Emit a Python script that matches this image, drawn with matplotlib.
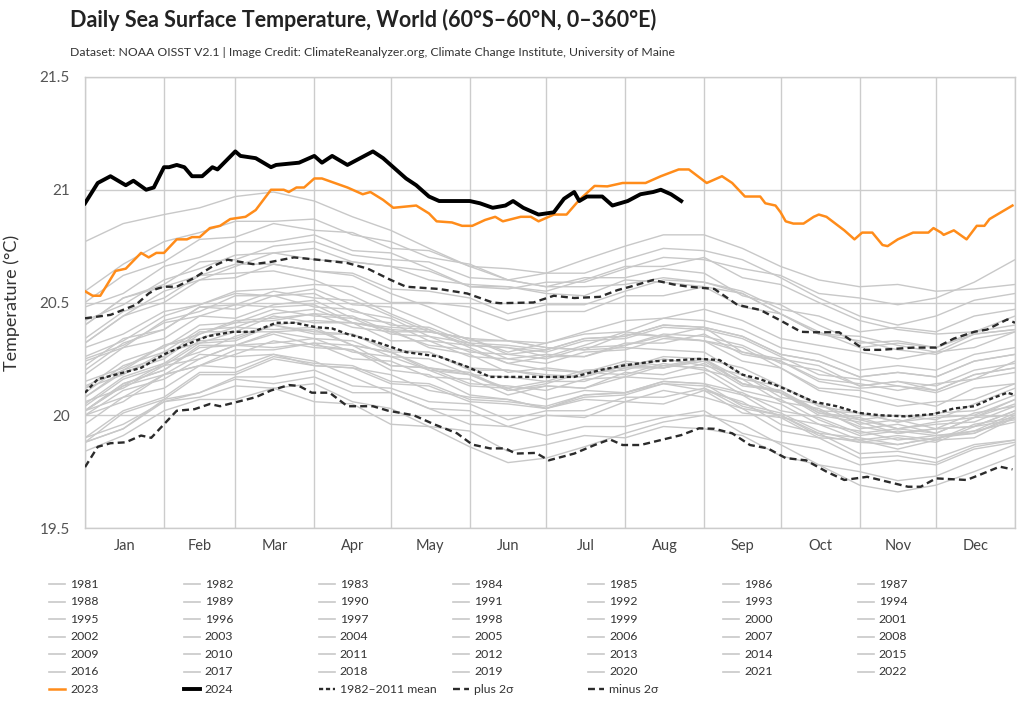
import matplotlib
matplotlib.use("Agg")
import matplotlib.pyplot as plt
from matplotlib.lines import Line2D

plt.rcParams['font.family'] = ['Lato', 'DejaVu Sans']
plt.rcParams['lines.scale_dashes'] = False

# --- axes / labels ---
month_names = ["Jan", "Feb", "Mar", "Apr", "May", "Jun",
               "Jul", "Aug", "Sep", "Oct", "Nov", "Dec"]
month_starts = [0, 31, 59, 90, 120, 151, 181, 212, 243, 273, 304, 334, 365]
y_ticks = [19.5, 20, 20.5, 21, 21.5]
y_tick_labels = ["19.5", "20", "20.5", "21", "21.5"]

# --- past years, read off roughly twice a month (day of year) ---
grey_days = [0, 15, 31, 45, 59, 74, 90, 105, 120, 135, 151, 166, 181,
             196, 212, 227, 243, 258, 273, 288, 304, 319, 334, 349, 365]
days_1981 = [243, 258, 273, 288, 304, 319, 334, 349, 365]   # record starts in Sep 1981

sst_1981 = [20.12, 20.05, 20.01, 19.93, 19.88, 19.87, 19.90, 19.93, 19.97]
sst_1982 = [19.88, 19.94, 20.07, 20.10, 20.16, 20.14, 20.17, 20.10, 20.10, 20.03, 20.02, 19.95, 20.00,
            19.99, 20.06, 20.05, 20.11, 20.01, 19.99, 19.90, 19.89, 19.85, 19.89, 19.90, 19.99]
sst_1983 = [20.02, 20.14, 20.20, 20.31, 20.31, 20.36, 20.31, 20.29, 20.20, 20.18, 20.09, 20.07, 20.03,
            20.07, 20.06, 20.11, 20.08, 20.03, 19.93, 19.90, 19.81, 19.82, 19.79, 19.86, 19.89]
sst_1984 = [19.90, 19.96, 20.06, 20.08, 20.13, 20.12, 20.14, 20.06, 20.03, 19.95, 19.93, 19.84, 19.87,
            19.91, 19.90, 19.95, 19.94, 19.91, 19.82, 19.78, 19.69, 19.66, 19.69, 19.75, 19.82]
sst_1985 = [19.84, 19.91, 20.02, 20.07, 20.07, 20.12, 20.06, 20.05, 19.96, 19.95, 19.86, 19.79, 19.81,
            19.86, 19.92, 19.97, 20.00, 19.96, 19.87, 19.78, 19.75, 19.71, 19.73, 19.80, 19.87]
sst_1986 = [19.88, 20.01, 20.07, 20.18, 20.18, 20.25, 20.22, 20.21, 20.14, 20.13, 20.06, 20.05, 20.03,
            20.09, 20.10, 20.15, 20.14, 20.10, 20.02, 19.99, 19.92, 19.94, 19.92, 19.99, 20.05]
sst_1987 = [20.08, 20.20, 20.26, 20.37, 20.37, 20.44, 20.41, 20.41, 20.33, 20.33, 20.26, 20.25, 20.23,
            20.28, 20.29, 20.34, 20.33, 20.24, 20.21, 20.11, 20.08, 20.04, 20.06, 20.07, 20.14]
sst_1988 = [20.15, 20.21, 20.31, 20.34, 20.39, 20.38, 20.39, 20.31, 20.28, 20.20, 20.13, 20.12, 20.07,
            20.11, 20.10, 20.14, 20.11, 20.06, 19.96, 19.92, 19.83, 19.84, 19.81, 19.87, 19.89]
sst_1989 = [19.88, 19.94, 20.06, 20.10, 20.17, 20.17, 20.20, 20.13, 20.12, 20.06, 20.05, 19.98, 20.02,
            20.02, 20.08, 20.08, 20.12, 20.03, 20.00, 19.92, 19.90, 19.87, 19.90, 19.92, 20.00]
sst_1990 = [20.04, 20.16, 20.22, 20.32, 20.33, 20.40, 20.36, 20.36, 20.28, 20.28, 20.20, 20.20, 20.17,
            20.17, 20.23, 20.21, 20.25, 20.14, 20.11, 20.01, 19.99, 19.94, 19.97, 19.99, 20.07]
sst_1991 = [20.06, 20.12, 20.22, 20.25, 20.31, 20.30, 20.32, 20.31, 20.22, 20.21, 20.19, 20.11, 20.14,
            20.19, 20.18, 20.23, 20.20, 20.16, 20.06, 20.03, 19.94, 19.96, 19.92, 19.99, 20.00]
sst_1992 = [20.02, 20.13, 20.18, 20.27, 20.26, 20.27, 20.24, 20.17, 20.10, 20.03, 19.96, 19.95, 19.91,
            19.95, 19.95, 19.99, 20.02, 19.92, 19.88, 19.85, 19.78, 19.80, 19.78, 19.85, 19.88]
sst_1993 = [19.90, 20.02, 20.08, 20.19, 20.19, 20.26, 20.23, 20.22, 20.15, 20.14, 20.07, 20.06, 20.04,
            20.09, 20.10, 20.15, 20.14, 20.04, 20.00, 19.91, 19.88, 19.90, 19.88, 19.95, 19.98]
sst_1994 = [20.00, 20.06, 20.18, 20.22, 20.29, 20.29, 20.32, 20.25, 20.24, 20.17, 20.16, 20.09, 20.13,
            20.12, 20.19, 20.18, 20.23, 20.13, 20.11, 20.02, 20.01, 19.97, 20.01, 20.02, 20.09]
sst_1995 = [20.12, 20.18, 20.28, 20.32, 20.37, 20.37, 20.38, 20.31, 20.28, 20.21, 20.18, 20.11, 20.13,
            20.12, 20.17, 20.16, 20.19, 20.09, 20.05, 19.96, 19.93, 19.89, 19.91, 19.92, 19.99]
sst_1996 = [19.96, 20.08, 20.12, 20.22, 20.21, 20.27, 20.22, 20.21, 20.18, 20.11, 20.08, 20.07, 20.03,
            20.08, 20.09, 20.14, 20.13, 20.09, 19.99, 19.96, 19.89, 19.91, 19.89, 19.96, 19.99]
sst_1997 = [20.02, 20.13, 20.23, 20.28, 20.35, 20.40, 20.42, 20.41, 20.38, 20.37, 20.34, 20.33, 20.32,
            20.37, 20.42, 20.43, 20.47, 20.42, 20.34, 20.31, 20.28, 20.25, 20.28, 20.30, 20.37]
sst_1998 = [20.40, 20.52, 20.57, 20.62, 20.67, 20.67, 20.64, 20.62, 20.54, 20.48, 20.40, 20.33, 20.30,
            20.29, 20.30, 20.29, 20.28, 20.18, 20.10, 20.02, 19.95, 19.92, 19.94, 19.95, 20.02]
sst_1999 = [20.02, 20.08, 20.18, 20.22, 20.27, 20.33, 20.30, 20.29, 20.22, 20.21, 20.14, 20.13, 20.11,
            20.16, 20.17, 20.22, 20.21, 20.11, 20.07, 19.98, 19.91, 19.93, 19.91, 19.93, 20.01]
sst_2000 = [20.00, 20.11, 20.16, 20.25, 20.31, 20.32, 20.34, 20.28, 20.26, 20.20, 20.18, 20.12, 20.15,
            20.15, 20.21, 20.21, 20.25, 20.16, 20.13, 20.05, 19.98, 20.00, 19.98, 20.05, 20.12]
sst_2001 = [20.13, 20.20, 20.31, 20.36, 20.42, 20.43, 20.45, 20.39, 20.37, 20.31, 20.29, 20.23, 20.26,
            20.26, 20.32, 20.32, 20.36, 20.27, 20.24, 20.16, 20.14, 20.11, 20.14, 20.16, 20.24]
sst_2002 = [20.22, 20.34, 20.38, 20.48, 20.47, 20.53, 20.48, 20.47, 20.40, 20.39, 20.32, 20.31, 20.29,
            20.34, 20.35, 20.40, 20.39, 20.35, 20.27, 20.24, 20.17, 20.19, 20.17, 20.24, 20.27]
sst_2003 = [20.30, 20.36, 20.46, 20.49, 20.54, 20.53, 20.54, 20.46, 20.43, 20.35, 20.32, 20.25, 20.27,
            20.26, 20.31, 20.35, 20.33, 20.28, 20.24, 20.15, 20.12, 20.13, 20.10, 20.16, 20.19]
sst_2004 = [20.18, 20.30, 20.34, 20.44, 20.43, 20.49, 20.51, 20.43, 20.41, 20.33, 20.31, 20.30, 20.26,
            20.31, 20.37, 20.35, 20.39, 20.28, 20.25, 20.22, 20.13, 20.15, 20.11, 20.18, 20.21]
sst_2005 = [20.24, 20.30, 20.42, 20.46, 20.53, 20.53, 20.56, 20.49, 20.48, 20.41, 20.33, 20.33, 20.30,
            20.29, 20.36, 20.35, 20.33, 20.30, 20.21, 20.12, 20.11, 20.07, 20.04, 20.12, 20.14]
sst_2006 = [20.12, 20.24, 20.30, 20.40, 20.41, 20.47, 20.44, 20.43, 20.36, 20.35, 20.28, 20.27, 20.25,
            20.30, 20.31, 20.36, 20.35, 20.31, 20.23, 20.20, 20.13, 20.15, 20.13, 20.20, 20.23]
sst_2007 = [20.25, 20.31, 20.41, 20.44, 20.49, 20.48, 20.49, 20.41, 20.38, 20.30, 20.27, 20.19, 20.21,
            20.19, 20.24, 20.22, 20.25, 20.14, 20.10, 20.00, 19.97, 19.92, 19.94, 19.95, 20.02]
sst_2008 = [20.02, 20.14, 20.20, 20.30, 20.31, 20.37, 20.34, 20.33, 20.26, 20.25, 20.18, 20.17, 20.15,
            20.20, 20.21, 20.26, 20.25, 20.21, 20.13, 20.04, 20.01, 19.97, 19.99, 20.00, 20.07]
sst_2009 = [20.08, 20.19, 20.25, 20.36, 20.41, 20.42, 20.45, 20.44, 20.37, 20.37, 20.34, 20.28, 20.32,
            20.36, 20.37, 20.43, 20.42, 20.38, 20.30, 20.27, 20.20, 20.22, 20.20, 20.27, 20.30]
sst_2010 = [20.34, 20.46, 20.52, 20.62, 20.63, 20.64, 20.60, 20.53, 20.45, 20.38, 20.30, 20.23, 20.20,
            20.19, 20.20, 20.25, 20.22, 20.18, 20.08, 20.05, 19.96, 19.98, 19.94, 20.01, 20.04]
sst_2011 = [20.05, 20.17, 20.23, 20.33, 20.34, 20.40, 20.37, 20.36, 20.29, 20.28, 20.21, 20.20, 20.18,
            20.17, 20.22, 20.21, 20.24, 20.14, 20.10, 20.01, 19.98, 19.94, 19.96, 19.97, 20.04]
sst_2012 = [20.10, 20.22, 20.28, 20.38, 20.39, 20.45, 20.47, 20.41, 20.39, 20.38, 20.31, 20.30, 20.28,
            20.33, 20.34, 20.39, 20.38, 20.34, 20.26, 20.18, 20.16, 20.13, 20.11, 20.18, 20.21]
sst_2013 = [20.20, 20.32, 20.38, 20.48, 20.49, 20.55, 20.52, 20.51, 20.44, 20.37, 20.34, 20.27, 20.29,
            20.34, 20.35, 20.40, 20.39, 20.35, 20.27, 20.24, 20.17, 20.19, 20.17, 20.24, 20.27]
sst_2014 = [20.26, 20.33, 20.44, 20.49, 20.55, 20.56, 20.58, 20.57, 20.50, 20.50, 20.48, 20.42, 20.46,
            20.46, 20.53, 20.53, 20.57, 20.48, 20.45, 20.37, 20.30, 20.32, 20.30, 20.37, 20.44]
sst_2015 = [20.42, 20.49, 20.60, 20.65, 20.71, 20.72, 20.74, 20.68, 20.66, 20.64, 20.57, 20.56, 20.59,
            20.59, 20.65, 20.70, 20.69, 20.65, 20.62, 20.54, 20.52, 20.49, 20.52, 20.59, 20.69]
sst_2016 = [20.77, 20.85, 20.89, 20.92, 20.97, 20.99, 20.95, 20.88, 20.82, 20.74, 20.66, 20.60, 20.57,
            20.57, 20.58, 20.61, 20.59, 20.54, 20.45, 20.36, 20.33, 20.29, 20.27, 20.34, 20.37]
sst_2017 = [20.48, 20.54, 20.66, 20.70, 20.77, 20.77, 20.80, 20.73, 20.72, 20.65, 20.57, 20.57, 20.54,
            20.53, 20.60, 20.59, 20.57, 20.54, 20.45, 20.36, 20.35, 20.31, 20.28, 20.36, 20.38]
sst_2018 = [20.32, 20.44, 20.50, 20.60, 20.61, 20.67, 20.64, 20.63, 20.56, 20.55, 20.52, 20.45, 20.49,
            20.49, 20.55, 20.60, 20.59, 20.55, 20.47, 20.44, 20.37, 20.39, 20.37, 20.44, 20.47]
sst_2019 = [20.50, 20.62, 20.68, 20.78, 20.79, 20.85, 20.82, 20.81, 20.74, 20.73, 20.66, 20.65, 20.63,
            20.69, 20.75, 20.80, 20.80, 20.74, 20.66, 20.60, 20.57, 20.58, 20.55, 20.56, 20.58]
sst_2020 = [20.55, 20.67, 20.77, 20.81, 20.86, 20.86, 20.87, 20.80, 20.77, 20.70, 20.67, 20.60, 20.57,
            20.61, 20.61, 20.65, 20.63, 20.53, 20.49, 20.40, 20.32, 20.33, 20.30, 20.36, 20.38]
sst_2021 = [20.32, 20.44, 20.55, 20.60, 20.66, 20.72, 20.69, 20.68, 20.66, 20.60, 20.58, 20.57, 20.55,
            20.60, 20.66, 20.66, 20.70, 20.61, 20.58, 20.50, 20.42, 20.38, 20.36, 20.37, 20.40]
sst_2022 = [20.40, 20.52, 20.58, 20.68, 20.69, 20.75, 20.77, 20.71, 20.69, 20.68, 20.61, 20.60, 20.63,
            20.63, 20.69, 20.74, 20.73, 20.69, 20.61, 20.52, 20.44, 20.40, 20.44, 20.51, 20.54]

grey_years = {
    1981: (days_1981, sst_1981), 1982: (grey_days, sst_1982), 1983: (grey_days, sst_1983),
    1984: (grey_days, sst_1984), 1985: (grey_days, sst_1985), 1986: (grey_days, sst_1986),
    1987: (grey_days, sst_1987), 1988: (grey_days, sst_1988), 1989: (grey_days, sst_1989),
    1990: (grey_days, sst_1990), 1991: (grey_days, sst_1991), 1992: (grey_days, sst_1992),
    1993: (grey_days, sst_1993), 1994: (grey_days, sst_1994), 1995: (grey_days, sst_1995),
    1996: (grey_days, sst_1996), 1997: (grey_days, sst_1997), 1998: (grey_days, sst_1998),
    1999: (grey_days, sst_1999), 2000: (grey_days, sst_2000), 2001: (grey_days, sst_2001),
    2002: (grey_days, sst_2002), 2003: (grey_days, sst_2003), 2004: (grey_days, sst_2004),
    2005: (grey_days, sst_2005), 2006: (grey_days, sst_2006), 2007: (grey_days, sst_2007),
    2008: (grey_days, sst_2008), 2009: (grey_days, sst_2009), 2010: (grey_days, sst_2010),
    2011: (grey_days, sst_2011), 2012: (grey_days, sst_2012), 2013: (grey_days, sst_2013),
    2014: (grey_days, sst_2014), 2015: (grey_days, sst_2015), 2016: (grey_days, sst_2016),
    2017: (grey_days, sst_2017), 2018: (grey_days, sst_2018), 2019: (grey_days, sst_2019),
    2020: (grey_days, sst_2020), 2021: (grey_days, sst_2021), 2022: (grey_days, sst_2022),
}

# --- 2023 (orange) ---
days_2023 = [0, 3, 6, 12, 16, 22, 25, 28, 31, 36, 40, 42, 45, 49, 53, 57, 63, 67, 71, 73, 78, 80, 83, 86,
             90, 93, 98, 103, 105, 109, 112, 117, 121, 130, 135, 138, 144, 148, 152, 157, 161, 164, 171,
             175, 178, 184, 189, 194, 200, 205, 211, 220, 226, 233, 237, 244, 248, 250, 254, 259, 265,
             267, 271, 273, 275, 278, 282, 286, 288, 291, 298, 302, 305, 309, 313, 315, 319, 325, 331,
             333, 336, 337, 341, 346, 350, 353, 355, 358, 364]
sst_2023 = [20.55, 20.53, 20.53, 20.64, 20.65, 20.72, 20.70, 20.72, 20.72, 20.78, 20.78, 20.79, 20.79,
            20.83, 20.84, 20.87, 20.88, 20.91, 20.97, 21.00, 21.00, 20.99, 21.01, 21.01, 21.05, 21.05,
            21.03, 21.01, 21.00, 20.98, 20.99, 20.955, 20.92, 20.93, 20.895, 20.86, 20.855, 20.84, 20.84,
            20.866, 20.88, 20.86, 20.88, 20.88, 20.86, 20.89, 20.89, 20.955, 21.017, 21.015, 21.03,
            21.03, 21.06, 21.09, 21.09, 21.03, 21.05, 21.06, 21.03, 20.97, 20.97, 20.94, 20.93, 20.90,
            20.86, 20.85, 20.85, 20.88, 20.89, 20.88, 20.82, 20.78, 20.81, 20.81, 20.755, 20.75, 20.78,
            20.81, 20.81, 20.83, 20.81, 20.80, 20.82, 20.78, 20.84, 20.84, 20.87, 20.89, 20.93]

# --- 2024 (black, to late August) ---
days_2024 = [0, 5, 10, 16, 19, 24, 27, 31, 33, 36, 39, 42, 46, 50, 52, 59, 61, 67, 73, 75, 84, 90, 93,
             97, 100, 103, 108, 113, 117, 122, 126, 130, 135, 139, 151, 155, 160, 165, 168, 172, 176,
             178, 184, 188, 192, 194, 197, 203, 207, 213, 218, 223, 226, 230, 234]
sst_2024 = [20.94, 21.03, 21.06, 21.02, 21.04, 21.00, 21.01, 21.10, 21.10, 21.11, 21.10, 21.06, 21.06,
            21.10, 21.09, 21.17, 21.15, 21.14, 21.10, 21.11, 21.12, 21.15, 21.12, 21.15, 21.13, 21.11,
            21.14, 21.17, 21.14, 21.09, 21.05, 21.02, 20.97, 20.95, 20.95, 20.94, 20.92, 20.93, 20.95,
            20.92, 20.90, 20.89, 20.90, 20.96, 20.99, 20.95, 20.97, 20.97, 20.93, 20.95, 20.98, 20.99,
            21.00, 20.98, 20.95]

# --- 1982-2011 climatology and +/- 2 sigma ---
days_mean = [0, 5, 12, 22, 31, 39, 48, 58, 66, 75, 82, 91, 97, 103, 113, 126, 139, 150, 159, 175, 192,
             202, 211, 224, 234, 241, 249, 258, 265, 273, 286, 295, 304, 312, 322, 333, 341, 349, 356,
             362, 365]
sst_mean = [20.10, 20.16, 20.18, 20.21, 20.27, 20.31, 20.35, 20.37, 20.37, 20.41, 20.41, 20.39, 20.385,
            20.36, 20.33, 20.28, 20.26, 20.215, 20.17, 20.17, 20.17, 20.20, 20.22, 20.24, 20.245, 20.25,
            20.245, 20.18, 20.16, 20.125, 20.06, 20.04, 20.01, 20.00, 19.995, 20.005, 20.03, 20.04,
            20.075, 20.10, 20.09]
days_plus = [0, 10, 20, 25, 28, 31, 36, 43, 50, 56, 61, 66, 73, 82, 91, 103, 111, 120, 126, 139, 150,
             160, 163, 176, 184, 192, 202, 209, 214, 223, 231, 237, 247, 256, 265, 273, 281, 286, 296,
             306, 312, 325, 334, 341, 349, 354, 362, 365]
sst_plus = [20.43, 20.445, 20.49, 20.54, 20.56, 20.57, 20.57, 20.61, 20.66, 20.69, 20.68, 20.67, 20.68,
            20.70, 20.69, 20.675, 20.65, 20.60, 20.57, 20.56, 20.54, 20.50, 20.497, 20.50, 20.53, 20.52,
            20.525, 20.555, 20.57, 20.60, 20.58, 20.57, 20.56, 20.49, 20.467, 20.42, 20.37, 20.368,
            20.368, 20.29, 20.29, 20.30, 20.30, 20.34, 20.37, 20.38, 20.425, 20.41]
days_minus = [0, 5, 10, 16, 22, 26, 31, 36, 43, 49, 53, 60, 67, 73, 80, 84, 89, 96, 103, 113, 119, 129,
              137, 146, 152, 159, 165, 169, 177, 182, 192, 200, 206, 211, 218, 226, 234, 241, 247, 254,
              261, 268, 275, 283, 291, 298, 307, 315, 323, 328, 334, 346, 351, 359, 364]
sst_minus = [19.77, 19.86, 19.876, 19.88, 19.91, 19.90, 19.96, 20.02, 20.027, 20.05, 20.04, 20.06, 20.08,
             20.11, 20.134, 20.13, 20.10, 20.10, 20.04, 20.04, 20.02, 20.00, 19.96, 19.92, 19.87, 19.853,
             19.853, 19.83, 19.833, 19.80, 19.83, 19.868, 19.893, 19.868, 19.868, 19.89, 19.912, 19.942,
             19.94, 19.92, 19.868, 19.853, 19.81, 19.80, 19.75, 19.713, 19.727, 19.705, 19.683, 19.683,
             19.72, 19.713, 19.735, 19.772, 19.76]

GREY = "#c8c8c8"
ORANGE = "#ff8c1a"
DASH = "#2b2b2b"
mean_dash = (0, (3.0, 2.0))
sigma_dash = (0, (5.0, 3.0))

W, H = 1024, 720
fig = plt.figure(figsize=(W / 100, H / 100), dpi=100)
ax = fig.add_axes([85 / W, 1 - 528 / H, 930 / W, 451 / H])

for yr, (d, v) in grey_years.items():
    ax.plot(d, v, color=GREY, lw=1.0, zorder=2)
ax.plot(days_mean, sst_mean, color=DASH, lw=1.7, linestyle=mean_dash, zorder=3)
ax.plot(days_plus, sst_plus, color=DASH, lw=1.7, linestyle=sigma_dash, zorder=3)
ax.plot(days_minus, sst_minus, color=DASH, lw=1.7, linestyle=sigma_dash, zorder=3)
ax.plot(days_2023, sst_2023, color=ORANGE, lw=1.8, zorder=4)
ax.plot(days_2024, sst_2024, color="black", lw=2.8, zorder=5, solid_joinstyle="round")

ax.set_xlim(0, 365)
ax.set_ylim(19.5, 21.5)
ax.set_xticks(month_starts)
ax.set_xticklabels([])
mids = [(a + b) / 2 for a, b in zip(month_starts[:-1], month_starts[1:])]
ax.set_xticks(mids, minor=True)
ax.set_xticklabels(month_names, minor=True, fontsize=10.5, color="#444444")
ax.set_yticks(y_ticks)
ax.set_yticklabels(y_tick_labels, fontsize=11, color="#555555")
ax.tick_params(which="both", length=0)
ax.tick_params(axis="x", which="minor", pad=8)
ax.tick_params(axis="y", pad=11)
ax.grid(True, which="major", color="#cccccc", lw=1.0, zorder=0)
for s in ax.spines.values():
    s.set_color("#cccccc")
    s.set_linewidth(1.0)
ax.set_ylabel("Temperature (°C)", fontsize=13, color="#333333", labelpad=14)

fig.text(70 / W, 1 - 20 / H, "Daily Sea Surface Temperature, World (60°S–60°N, 0–360°E)",
         fontsize=15.5, fontweight="bold", color="#222222", va="center")
fig.text(70 / W, 1 - 53 / H,
         "Dataset: NOAA OISST V2.1 | Image Credit: ClimateReanalyzer.org, "
         "Climate Change Institute, University of Maine",
         fontsize=8.8, color="#333333", va="center")

# legend laid out row by row, 7 columns
entries = [(str(y), dict(color=GREY, lw=1.2)) for y in grey_years]
entries += [("2023", dict(color=ORANGE, lw=1.8)),
            ("2024", dict(color="black", lw=2.8)),
            ("1982–2011 mean", dict(color=DASH, lw=1.7, linestyle=mean_dash)),
            ("plus 2σ", dict(color=DASH, lw=1.7, linestyle=sigma_dash)),
            ("minus 2σ", dict(color=DASH, lw=1.7, linestyle=sigma_dash))]
for i, (label, style) in enumerate(entries):
    r, c = divmod(i, 7)
    x0 = 49 + c * 134.8
    yy = 1 - (584 + r * 17.55) / H
    fig.add_artist(Line2D([x0 / W, (x0 + 16) / W], [yy, yy], transform=fig.transFigure, **style))
    fig.text((x0 + 21) / W, yy, label, fontsize=8.8, color="#333333", va="center")

fig.savefig("out.png", dpi=100)
